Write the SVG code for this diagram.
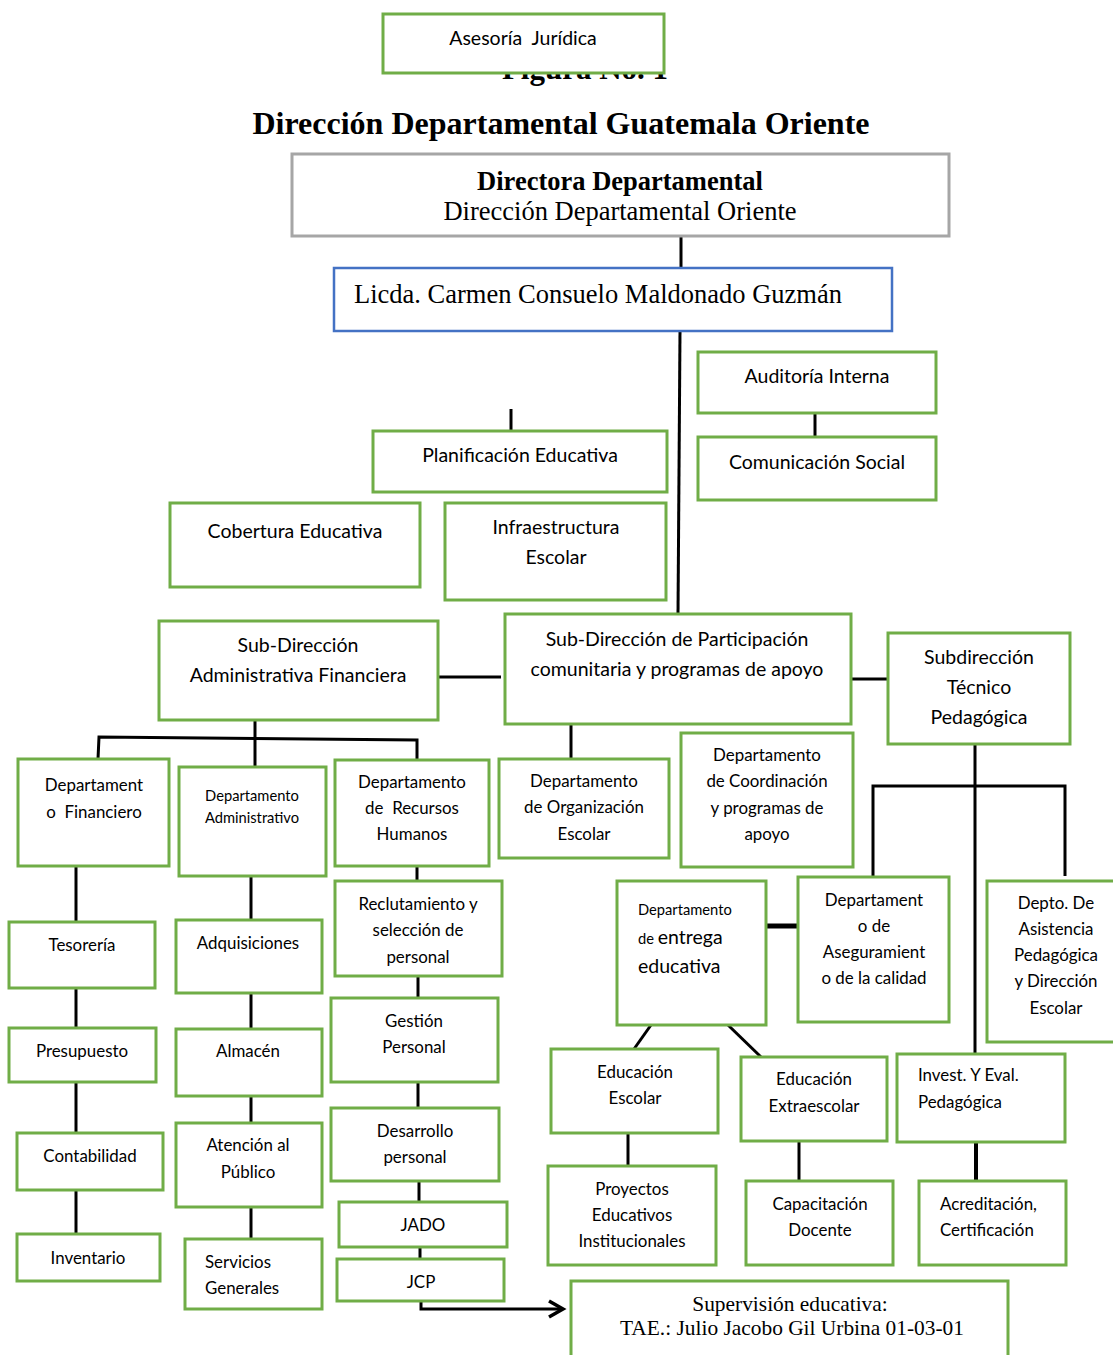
<svg xmlns="http://www.w3.org/2000/svg" width="1113" height="1355" viewBox="0 0 1113 1355">
<style>
.b{fill:#fff;stroke:#70ad47;stroke-width:3}
.t{font-family:Lato,"Open Sans","Liberation Sans",sans-serif;font-size:19.5px;fill:#000;text-anchor:middle}
.m{font-size:16.9px}
.s{font-size:14.7px}
.tm{font-family:"Liberation Serif","Times New Roman",serif;fill:#000;text-anchor:middle}
.l{text-anchor:start}
.c{stroke:#000;stroke-width:3;fill:none}
</style>
<defs>
<marker id="ah" markerWidth="20" markerHeight="22" refX="16" refY="10" orient="auto" markerUnits="userSpaceOnUse">
<path d="M2,2 L16,10 L2,18" fill="none" stroke="#000" stroke-width="3.5"/>
</marker>
</defs>
<rect width="1113" height="1355" fill="#fff"/>
<text class="tm" x="585" y="79" font-size="31" font-weight="bold">Figura No. 1</text>
<text class="tm" x="561" y="134" font-size="32" font-weight="bold">Dirección Departamental Guatemala Oriente</text>

<g id="connectors">
<line class="c" x1="681" y1="236" x2="681" y2="268"/>
<line class="c" x1="680" y1="331" x2="678" y2="614"/>
<line class="c" x1="815" y1="413" x2="815" y2="437"/>
<line class="c" x1="511" y1="409" x2="511" y2="431"/>
<line class="c" x1="438" y1="677" x2="501" y2="677"/>
<line class="c" x1="851" y1="679" x2="888" y2="679"/>
<line class="c" x1="255" y1="720" x2="255" y2="767"/>
<polyline class="c" points="98,759 99,737 417,740 417,760"/>
<line class="c" x1="571" y1="724" x2="571" y2="759"/>
<line class="c" x1="975" y1="744" x2="975" y2="1054"/>
<polyline class="c" points="873,877 873,786 1065,786 1065,876"/>
<line stroke="#000" stroke-width="5" x1="767" y1="926" x2="798" y2="926"/>
<line class="c" x1="651" y1="1025" x2="634" y2="1049"/>
<line class="c" x1="728" y1="1025" x2="761" y2="1057"/>
<line class="c" x1="628" y1="1133" x2="628" y2="1166"/>
<line class="c" x1="799" y1="1141" x2="799" y2="1181"/>
<line stroke="#000" stroke-width="4" x1="976" y1="1142" x2="976" y2="1181"/>
<line class="c" x1="76" y1="866" x2="76" y2="922"/>
<line class="c" x1="76" y1="988" x2="76" y2="1028"/>
<line class="c" x1="76" y1="1082" x2="76" y2="1133"/>
<line class="c" x1="76" y1="1190" x2="76" y2="1234"/>
<line class="c" x1="251" y1="876" x2="251" y2="920"/>
<line class="c" x1="251" y1="993" x2="251" y2="1029"/>
<line class="c" x1="251" y1="1096" x2="251" y2="1123"/>
<line class="c" x1="251" y1="1207" x2="251" y2="1239"/>
<line class="c" x1="417" y1="866" x2="417" y2="881"/>
<line class="c" x1="418" y1="976" x2="418" y2="998"/>
<line class="c" x1="418" y1="1082" x2="418" y2="1108"/>
<line class="c" x1="419" y1="1181" x2="419" y2="1202"/>
<line class="c" x1="420" y1="1247" x2="420" y2="1259"/>
<polyline class="c" points="421,1301 421,1309 563,1309" marker-end="url(#ah)"/>
</g>

<g id="asesoria"><rect class="b" x="383" y="14" width="281" height="59"/><text class="t" x="523" y="45">Asesoría&#160; Jurídica</text></g>
<g id="directora"><rect x="292" y="154" width="657" height="82" fill="#fff" stroke="#a6a6a6" stroke-width="3"/>
<text class="tm" x="620" y="190" font-size="26.5" font-weight="bold">Directora Departamental</text>
<text class="tm" x="620" y="220" font-size="26.5">Dirección Departamental Oriente</text></g>
<g id="licda"><rect x="334" y="268" width="558" height="63" fill="#fff" stroke="#4472c4" stroke-width="2.5"/>
<text class="tm l" x="354" y="303" font-size="26.5">Licda. Carmen Consuelo Maldonado Guzmán</text></g>
<g id="auditoria"><rect class="b" x="698" y="352" width="238" height="61"/><text class="t" x="817" y="383">Auditoría Interna</text></g>
<g id="comunicacion"><rect class="b" x="698" y="437" width="238" height="63"/><text class="t" x="817" y="469">Comunicación Social</text></g>
<g id="planificacion"><rect class="b" x="373" y="431" width="294" height="61"/><text class="t" x="520" y="462">Planificación Educativa</text></g>
<g id="cobertura"><rect class="b" x="170" y="503" width="250" height="84"/><text class="t" x="295" y="538">Cobertura Educativa</text></g>
<g id="infraestructura"><rect class="b" x="445" y="503" width="221" height="97"/><text class="t" x="556" y="534">Infraestructura</text><text class="t" x="556" y="564">Escolar</text></g>
<g id="subdir-admin"><rect class="b" x="159" y="621" width="279" height="99"/><text class="t" x="298" y="652">Sub-Dirección</text><text class="t" x="298" y="682">Administrativa Financiera</text></g>
<g id="subdir-part"><rect class="b" x="505" y="614" width="346" height="110"/><text class="t" x="677" y="646">Sub-Dirección de Participación</text><text class="t" x="677" y="676">comunitaria y programas de apoyo</text></g>
<g id="subdir-tec"><rect class="b" x="888" y="633" width="182" height="111"/><text class="t" x="979" y="664">Subdirección</text><text class="t" x="979" y="694">Técnico</text><text class="t" x="979" y="724">Pedagógica</text></g>

<g id="depto-fin"><rect class="b" x="18" y="759" width="151" height="107"/><text class="t m" x="94" y="791">Departament</text><text class="t m" x="94" y="818">o&#160; Financiero</text></g>
<g id="depto-adm"><rect class="b" x="179" y="767" width="147" height="109"/><text class="t s" x="252" y="801">Departamento</text><text class="t s" x="252" y="823">Administrativo</text></g>
<g id="depto-rrhh"><rect class="b" x="335" y="760" width="154" height="106"/><text class="t m" x="412" y="788">Departamento</text><text class="t m" x="412" y="814">de&#160; Recursos</text><text class="t m" x="412" y="840">Humanos</text></g>
<g id="depto-org"><rect class="b" x="499" y="759" width="170" height="99"/><text class="t m" x="584" y="787">Departamento</text><text class="t m" x="584" y="813">de Organización</text><text class="t m" x="584" y="840">Escolar</text></g>
<g id="depto-coord"><rect class="b" x="681" y="733" width="172" height="134"/><text class="t m" x="767" y="761">Departamento</text><text class="t m" x="767" y="787">de Coordinación</text><text class="t m" x="767" y="814">y programas de</text><text class="t m" x="767" y="840">apoyo</text></g>
<g id="depto-aseg"><rect class="b" x="798" y="877" width="151" height="145"/><text class="t m" x="874" y="906">Departament</text><text class="t m" x="874" y="932">o de</text><text class="t m" x="874" y="958">Aseguramient</text><text class="t m" x="874" y="984">o de la calidad</text></g>
<g id="depto-asist"><rect class="b" x="987" y="881" width="130" height="161"/><text class="t m" x="1056" y="909">Depto. De</text><text class="t m" x="1056" y="935">Asistencia</text><text class="t m" x="1056" y="961">Pedagógica</text><text class="t m" x="1056" y="987">y Dirección</text><text class="t m" x="1056" y="1014">Escolar</text></g>
<g id="depto-entrega"><rect class="b" x="617" y="881" width="149" height="144"/><text class="t s l" x="638" y="915">Departamento</text><text class="t l" x="638" y="944" font-size="22.5"><tspan font-size="14.7">de </tspan>entrega</text><text class="t l" x="638" y="973" font-size="22.5">educativa</text></g>
<g id="edu-escolar"><rect class="b" x="551" y="1049" width="167" height="84"/><text class="t m" x="635" y="1078">Educación</text><text class="t m" x="635" y="1104">Escolar</text></g>
<g id="edu-extra"><rect class="b" x="741" y="1057" width="146" height="84"/><text class="t m" x="814" y="1085">Educación</text><text class="t m" x="814" y="1112">Extraescolar</text></g>
<g id="invest"><rect class="b" x="897" y="1054" width="168" height="88"/><text class="t m l" x="918" y="1081">Invest. Y Eval.</text><text class="t m l" x="918" y="1108">Pedagógica</text></g>
<g id="proyectos"><rect class="b" x="548" y="1166" width="168" height="99"/><text class="t m" x="632" y="1195">Proyectos</text><text class="t m" x="632" y="1221">Educativos</text><text class="t m" x="632" y="1247">Institucionales</text></g>
<g id="capacitacion"><rect class="b" x="746" y="1181" width="147" height="84"/><text class="t m" x="820" y="1210">Capacitación</text><text class="t m" x="820" y="1236">Docente</text></g>
<g id="acreditacion"><rect class="b" x="919" y="1181" width="147" height="84"/><text class="t m l" x="940" y="1210">Acreditación,</text><text class="t m l" x="940" y="1236">Certificación</text></g>

<g id="tesoreria"><rect class="b" x="9" y="922" width="146" height="66"/><text class="t m" x="82" y="951">Tesorería</text></g>
<g id="presupuesto"><rect class="b" x="9" y="1028" width="147" height="54"/><text class="t m" x="82" y="1057">Presupuesto</text></g>
<g id="contabilidad"><rect class="b" x="17" y="1133" width="146" height="57"/><text class="t m" x="90" y="1162">Contabilidad</text></g>
<g id="inventario"><rect class="b" x="17" y="1234" width="143" height="47"/><text class="t m" x="88" y="1264">Inventario</text></g>
<g id="adquisiciones"><rect class="b" x="176" y="920" width="146" height="73"/><text class="t m" x="248" y="949">Adquisiciones</text></g>
<g id="almacen"><rect class="b" x="176" y="1029" width="146" height="67"/><text class="t m" x="248" y="1057">Almacén</text></g>
<g id="atencion"><rect class="b" x="176" y="1123" width="146" height="84"/><text class="t m" x="248" y="1151">Atención al</text><text class="t m" x="248" y="1178">Público</text></g>
<g id="servicios"><rect class="b" x="185" y="1239" width="137" height="70"/><text class="t m l" x="205" y="1268">Servicios</text><text class="t m l" x="205" y="1294">Generales</text></g>
<g id="reclutamiento"><rect class="b" x="335" y="881" width="167" height="95"/><text class="t m" x="418" y="910">Reclutamiento y</text><text class="t m" x="418" y="936">selección de</text><text class="t m" x="418" y="963">personal</text></g>
<g id="gestion"><rect class="b" x="331" y="998" width="167" height="84"/><text class="t m" x="414" y="1027">Gestión</text><text class="t m" x="414" y="1053">Personal</text></g>
<g id="desarrollo"><rect class="b" x="331" y="1108" width="168" height="73"/><text class="t m" x="415" y="1137">Desarrollo</text><text class="t m" x="415" y="1163">personal</text></g>
<g id="jado"><rect class="b" x="339" y="1202" width="168" height="45"/><text class="t m" x="423" y="1231">JADO</text></g>
<g id="jcp"><rect class="b" x="337" y="1259" width="167" height="42"/><text class="t m" x="421" y="1288">JCP</text></g>
<g id="supervision"><rect class="b" x="571" y="1281" width="437" height="80"/><text class="tm" x="790" y="1311" font-size="21.4">Supervisión educativa:</text><text class="tm" x="792" y="1335" font-size="21.4">TAE.: Julio Jacobo Gil Urbina 01-03-01</text></g>
</svg>
